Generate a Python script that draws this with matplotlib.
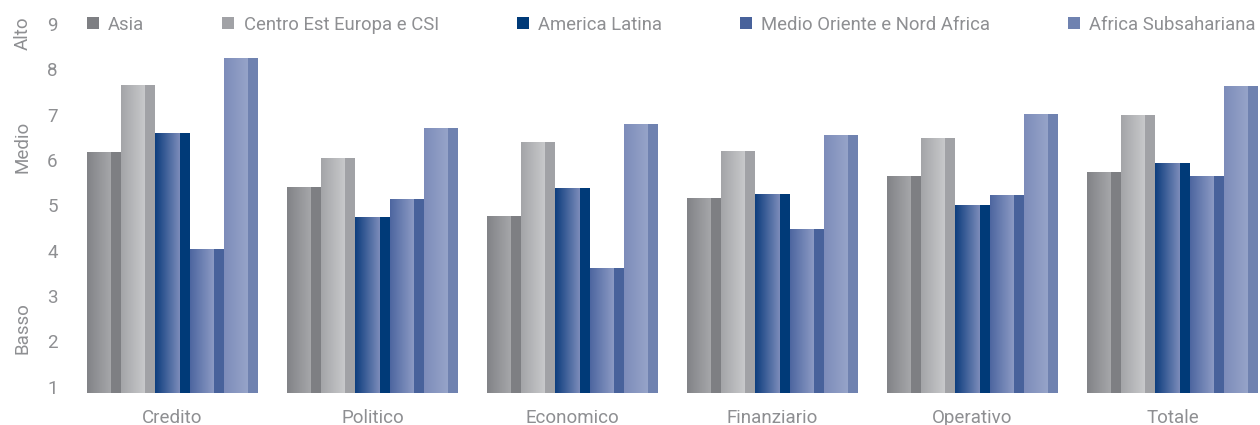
import matplotlib.pyplot as plt
import numpy as np
from matplotlib.colors import LinearSegmentedColormap
from matplotlib.patches import Patch

# dati
categorie = ['Credito', 'Politico', 'Economico', 'Finanziario', 'Operativo', 'Totale']
regioni = ['Asia', 'Centro Est Europa e CSI', 'America Latina',
           'Medio Oriente e Nord Africa', 'Africa Subsahariana']
asia = [6.18, 5.40, 4.76, 5.16, 5.65, 5.74]
cee = [7.65, 6.04, 6.40, 6.20, 6.49, 6.99]
america_latina = [6.60, 4.74, 5.38, 5.25, 5.01, 5.93]
mena = [4.04, 5.14, 3.62, 4.48, 5.23, 5.65]
africa_sub = [8.25, 6.71, 6.79, 6.55, 7.01, 7.63]
valori = [asia, cee, america_latina, mena, africa_sub]
livelli = ['Alto', 'Medio', 'Basso']
pos_livelli = [8.8, 6.3, 2.3]

# stile: (inizio gradiente, fine gradiente, lato)
colori = [
    ('#828387', '#a7a8ab', '#7e7f83'),
    ('#a4a5a8', '#c9cacc', '#a1a2a6'),
    ('#0d3d7e', '#7c8cba', '#003a78'),
    ('#4d66a0', '#8e9cc5', '#48629b'),
    ('#7d8cba', '#97a5c9', '#6f82b0'),
]
grigio = '#8e8f92'
font = dict(family=['Roboto', 'DejaVu Sans'], weight='normal')

fig = plt.figure(figsize=(12.6, 4.25), dpi=100)
ax = fig.add_axes([87 / 1260, 0.076, 1171 / 1260, 0.8675])

base = 0.868
larg_gruppo = 0.855
larg = larg_gruppo / len(regioni)
fronte = 0.71
grad = np.linspace(0, 1, 64).reshape(1, -1)

for j, serie in enumerate(valori):
    c0, c1, lato = colori[j]
    cmap = LinearSegmentedColormap.from_list('g%d' % j, [c0, c1])
    for i, v in enumerate(serie):
        x0 = i - larg_gruppo / 2 + j * larg
        ax.imshow(grad, cmap=cmap, aspect='auto', interpolation='bilinear',
                  extent=(x0, x0 + larg * fronte, base, v), zorder=2)
        ax.bar(x0 + larg * fronte, v - base, bottom=base, width=larg * (1 - fronte),
               align='edge', color=lato, linewidth=0, zorder=2)

ax.set_xlim(-larg_gruppo / 2, len(categorie) - 1 + larg_gruppo / 2)
ax.set_ylim(base, 9)
ax.set_xticks(range(len(categorie)))
ax.set_xticklabels(categorie, color=grigio, fontsize=13.5, **font)
ax.set_yticks(range(1, 10))
ax.set_yticklabels([str(t) for t in range(1, 10)], color=grigio, fontsize=13.5, **font)
ax.tick_params(axis='x', length=0, pad=12)
ax.tick_params(axis='y', length=0, pad=21)
for s in ax.spines.values():
    s.set_visible(False)

for lab, y in zip(livelli, pos_livelli):
    ax.text(-0.055, y, lab, transform=ax.get_yaxis_transform(), rotation=90,
            ha='center', va='center', color=grigio, fontsize=13.5, **font)

maniglie = [Patch(facecolor=c[2], edgecolor='none') for c in colori]
leg = fig.legend(maniglie, regioni, loc='center left', bbox_to_anchor=(87 / 1260, 1 - 24.5 / 425),
                 ncol=5, frameon=False, borderpad=0, borderaxespad=0,
                 handlelength=0.65, handleheight=0.65, handletextpad=0.5,
                 columnspacing=4.22, prop=dict(size=13.3, **font))
for t in leg.get_texts():
    t.set_color(grigio)

fig.savefig('out.png', dpi=100)
